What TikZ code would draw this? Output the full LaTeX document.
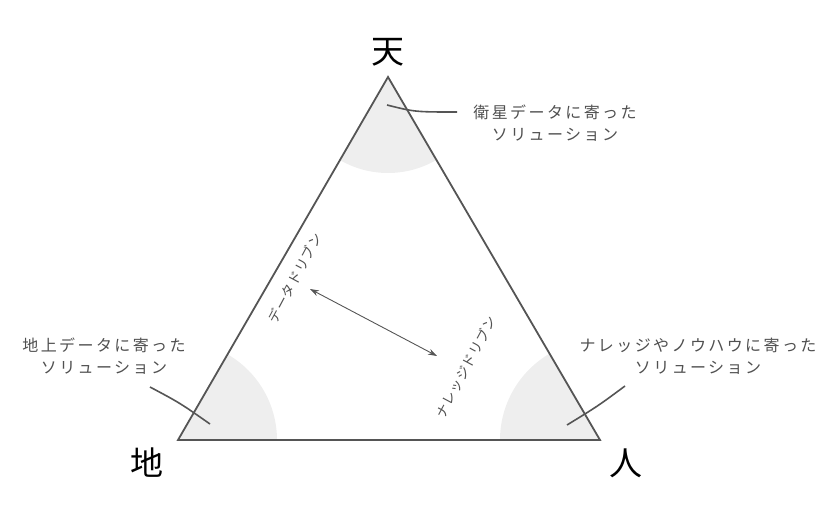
\documentclass[tikz,border=0pt]{standalone}
\usepackage{fontspec}
\newfontfamily\jpfont{Noto Sans CJK JP}
\usetikzlibrary{arrows.meta}
\definecolor{edgegray}{HTML}{555555}
\definecolor{textgray}{HTML}{505050}
\definecolor{sectorgray}{HTML}{EEEEEE}
\tikzset{
  corner/.style={font=\jpfont\fontsize{33}{33}\selectfont,text=black},
  callout/.style={font=\jpfont\fontsize{16}{22}\addfontfeature{LetterSpace=15}\selectfont,
    text=textgray,align=center,inner sep=0pt},
  slanted/.style={font=\jpfont\fontsize{13.5}{13.5}\addfontfeature{LetterSpace=5}\selectfont,
    text=textgray,inner sep=0pt,rotate=62},
  pointer/.style={draw=edgegray,line width=1.6pt}
}
\begin{document}
\begin{tikzpicture}
[x=1pt,y=-1pt]
\useasboundingbox (0,0) rectangle (839,514);
\coordinate (ten) at (388,77);
\coordinate (chi) at (178,440);
\coordinate (jin) at (600,440);
% shaded corners
\fill [sectorgray] (ten) -- ++(60:96) arc [start angle=60,end angle=120,radius=96] -- cycle;
\fill [sectorgray] (chi) -- ++(-60:99) arc [start angle=-60,end angle=0,radius=99] -- cycle;
\fill [sectorgray] (jin) -- ++(180:100) arc [start angle=180,end angle=240,radius=100] -- cycle;
\draw [edgegray,line width=1.8pt,line join=miter] (ten) -- (chi) -- (jin) -- cycle;
\path (388,52) node (tenlabel) [corner] {天}
(147,463) node (chilabel) [corner] {地}
(626,463) node (jinlabel) [corner] {人}
(555,123) node (satellite) [callout] {衛星データに寄った\\ソリューション}
(104,356) node (ground) [callout] {地上データに寄った\\ソリューション}
(698,356) node (knowhow) [callout] {ナレッジやノウハウに寄った\\ソリューション}
(295,278) node (datadriven) [slanted] {データドリブン}
(466,367) node (knowledgedriven) [slanted] {ナレッジドリブン};
\coordinate (satin) at (387,105);
\coordinate (satout) at (457,112);
\coordinate (grin) at (210,424);
\coordinate (grout) at (150,387);
\coordinate (khin) at (567,425);
\coordinate (khout) at (625,386);
\coordinate (ddend) at (310,289);
\coordinate (kdend) at (437,356);
\draw [pointer] (satin) .. controls (415,112) .. (satout);
\draw [pointer] (grout) .. controls (180,403) .. (grin);
\draw [pointer] (khout) .. controls (598,406) .. (khin);
\draw [{Stealth[length=9pt,width=6pt]}-{Stealth[length=9pt,width=6pt]},edgegray,line width=0.9pt] (ddend) -- (kdend);
\end{tikzpicture}
\end{document}
